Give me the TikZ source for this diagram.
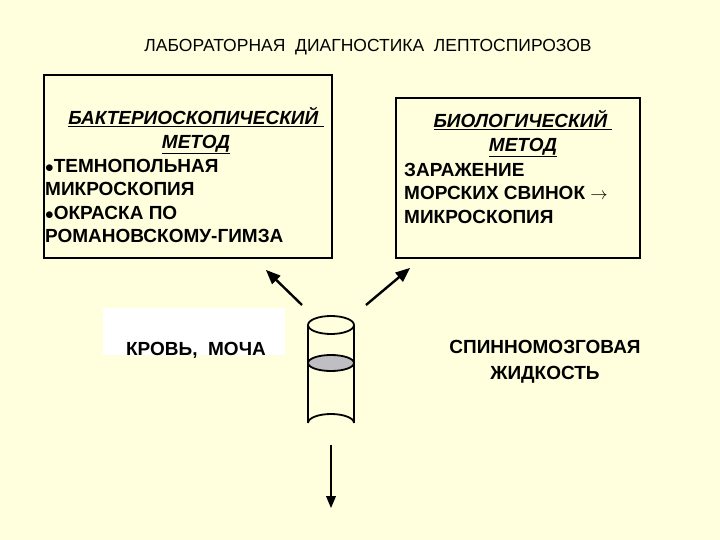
\documentclass[tikz,border=0pt]{standalone}
\usepackage{fontspec}
\setmainfont{Liberation Sans}
\usetikzlibrary{arrows}
\definecolor{bgyellow}{RGB}{255,255,221}
\definecolor{liquid}{RGB}{190,190,195}
\begin{document}
\begin{tikzpicture}[x=1pt,y=-1pt]
% Styles ---
\tikzstyle{box} = [draw = black, line width = 1.8pt] % Method boxes
\tikzstyle{txt} = [align = left, font = \fontsize{19}{23.5}\selectfont\bfseries, inner sep = 0pt] % Box texts
\tikzstyle{head} = [align = center, font = \fontsize{19}{23.5}\selectfont\bfseries\itshape, inner sep = 0pt] % Box headings
\tikzstyle{lbl} = [align = center, font = \fontsize{19}{26}\selectfont\bfseries] % Sample labels
\tikzstyle{con} = [-triangle 45, line width = 2.4pt] % Arrows
\tikzstyle{tube} = [draw = black, line width = 1.8pt]
% Background ---
\fill [bgyellow] (0,0) rectangle (720,540);
\useasboundingbox (0,0) rectangle (720,540);
% Title
\node at (368,47) [font = \fontsize{17.5}{20}\selectfont] (title) {ЛАБОРАТОРНАЯ\ \ ДИАГНОСТИКА\ \ ЛЕПТОСПИРОЗОВ};
% Boxes
\draw [box] (44,75) rectangle (332,258);
\draw [box] (396,98) rectangle (640,258);
\node at (196,131) [head] (bacthead) {\underline{БАКТЕРИОСКОПИЧЕСКИЙ\ }\\\underline{МЕТОД}};
\node at (45,201) [txt, anchor = west] (bact) {%
$\bullet$ТЕМНОПОЛЬНАЯ\\
МИКРОСКОПИЯ\\
$\bullet$ОКРАСКА ПО\\
РОМАНОВСКОМУ-ГИМЗА};
\node at (523,134) [head] (biohead) {\underline{БИОЛОГИЧЕСКИЙ\ }\\\underline{МЕТОД}};
\node at (404,193) [txt, anchor = west] (bio) {%
ЗАРАЖЕНИЕ\\
МОРСКИХ СВИНОК $\rightarrow$\\
МИКРОСКОПИЯ};
% Samples
\fill [white] (103,308) rectangle (285,355);
\node at (196,350) [lbl] (blood) {КРОВЬ,\ \ МОЧА};
\node at (545,362) [lbl] (csf) {СПИННОМОЗГОВАЯ\\ЖИДКОСТЬ};
% Tube
\draw [tube] (308,325) -- (308,423);
\draw [tube] (354,325) -- (354,423);
\draw [tube] (308,423) arc [start angle = 180, end angle = 360, x radius = 23, y radius = 9];
\draw [tube] (331,325) ellipse [x radius = 23, y radius = 9];
\draw [tube, fill = liquid] (331,363) ellipse [x radius = 23, y radius = 8];
\coordinate (tubebottom) at (331,445);
% Arrows
\coordinate (ls) at (302,305);
\coordinate (la) at (266,270);
\coordinate (rs) at (366,305);
\coordinate (ra) at (410,268);
\coordinate (da) at (331,508);
\draw [con] (ls) -- (la);
\draw [con] (rs) -- (ra);
\draw [con, line width = 1.8pt] (tubebottom) -- (da);
\end{tikzpicture}
\end{document}
